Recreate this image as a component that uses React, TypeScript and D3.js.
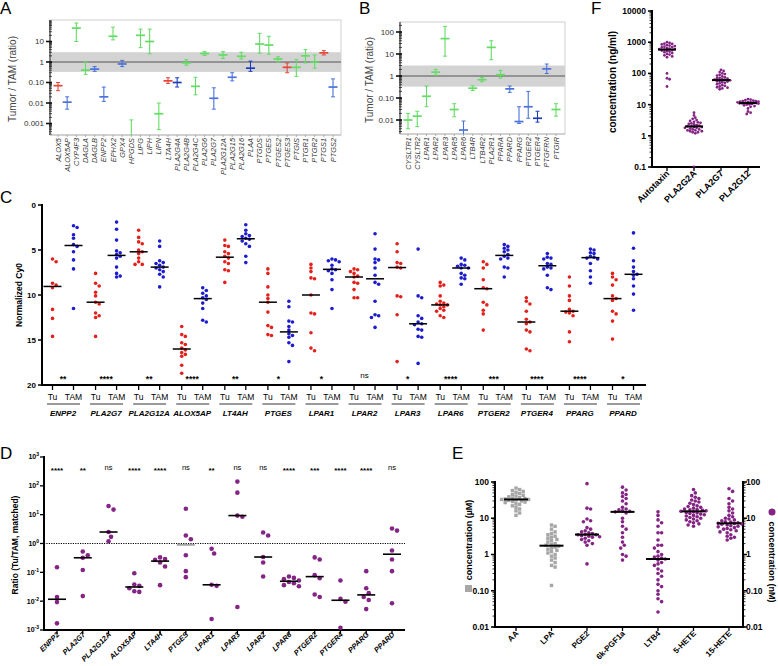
import React from "react";
import * as d3 from "d3";

const FONT = "'Liberation Sans', Arial, Helvetica, sans-serif";

// ---------------- Panel A ----------------
const aGenes = ["ALOX5","ALOX5AP","CYP4F3","DAGLA","DAGLB","ENPP2","EPHX2","GPX4","HPGDS","LIPG","LIPH","LIPN","LTA4H","PLA2G4A","PLA2G4B","PLA2G4C","PLA2G6","PLA2G7","PLA2G12A","PLA2G15","PLA2G16","PLAA","PTGDS","PTGES","PTGES2","PTGES3","PTGIS","PTGR1","PTGR2","PTGS1","PTGS2"];
const aMedian = [0.07,0.011,45,0.4,0.45,0.02,18,0.8,0.0002,20,10,0.003,0.12,0.1,0.9,0.065,2.6,0.017,2.2,0.18,1.9,0.5,7.5,6.7,1.4,0.55,0.55,2.0,1.0,2.8,0.06];
const aLow = [0.04,0.005,10,0.25,0.35,0.012,12,0.6,0.00005,5,2.5,0.0005,0.09,0.06,0.7,0.025,2.1,0.005,1.5,0.12,1.4,0.35,2.7,2.4,1.0,0.3,0.2,0.9,0.5,2.2,0.02];
const aHigh = [0.1,0.02,80,1.0,0.6,0.06,50,1.2,0.0015,40,40,0.01,0.17,0.17,1.3,0.18,3.2,0.055,3.2,0.3,3.0,1.1,25,18,1.8,0.9,1.3,4.0,2.2,3.6,0.15];
const aColor = ["r","b","g","g","b","b","g","b","g","g","g","g","r","B","g","g","g","b","g","b","g","B","g","g","g","r","g","g","g","r","b"];
const aTicks = [10,1,0.1,0.01,0.001];
const aTickLabels = ["10","1","0.10","0.01","0.001"];

// ---------------- Panel B ----------------
const bGenes = ["CYSLTR1","CYSLTR2","LPAR1","LPAR2","LPAR3","LPAR5","LPAR6","LTB4R","LTB4R2","PLA2R1","PPARA","PPARD","PPARG","PTGER2","PTGER4","PTGFRN","PTGIR"];
const bMedian = [0.01,0.015,0.12,1.5,50,0.03,0.0035,0.28,0.68,20,1.15,0.26,0.0085,0.04,0.012,2.1,0.03];
const bLow = [0.004,0.005,0.04,1.1,8,0.014,0.001,0.22,0.55,5.5,0.8,0.18,0.007,0.012,0.008,1.3,0.015];
const bHigh = [0.02,0.025,0.35,2.0,180,0.055,0.009,0.36,0.85,40,1.8,0.35,0.04,0.2,0.025,3.5,0.055];
const bColor = ["g","g","g","g","g","g","b","g","g","g","g","b","b","b","B","b","g"];
const bTicks = [100,10,1,0.1,0.01];
const bTickLabels = ["100","10","1","0.10","0.01"];

// ---------------- Panel C ----------------
const cGenes = ["ENPP2","PLA2G7","PLA2G12A","ALOX5AP","LT4AH","PTGES","LPAR1","LPAR2","LPAR3","LPAR6","PTGER2","PTGER4","PPARG","PPARD"];
const cStars = ["**","****","**","****","**","*","*","ns","*","****","***","****","****","*"];
const cTicks = [0,5,10,15,20];
const cTu = [
  [6.0,6.3,8.7,8.9,9.2,11.6,12.6,14.6],
  [7.6,8.7,9.0,9.7,10.1,10.8,11.0,12.0,12.3,12.5,14.6],
  [2.8,3.6,4.1,4.3,5.0,5.2,5.4,5.9,6.3,6.6,6.6],
  [13.5,14.4,14.6,15.3,15.5,15.9,16.1,16.4,16.6,16.8,17.8,18.7],
  [3.9,4.5,4.6,5.2,5.4,5.7,5.9,6.3,6.5,7.2,7.3,8.6],
  [7.1,7.6,9.1,10.0,10.4,10.8,11.9,13.4,13.6,14.4,14.5],
  [6.6,7.0,7.4,8.1,8.2,10.0,12.0,12.1,14.2,15.9,16.2],
  [7.1,7.2,7.4,7.6,7.9,8.0,8.6,8.7,9.4,10.3,10.3],
  [4.3,5.2,6.4,6.5,6.9,7.0,10.1,10.2,12.2,17.4],
  [8.6,8.9,9.0,10.1,10.7,10.9,11.0,11.1,11.1,11.3,11.5,11.7,11.8,12.3,12.5],
  [6.3,6.6,7.0,8.3,9.2,9.3,10.8,11.1,11.7,12.1,13.9],
  [10.3,10.7,11.0,11.8,12.7,13.0,13.2,13.9,14.1,16.0,16.2],
  [8.0,9.0,10.1,10.6,11.6,11.8,11.9,12.0,12.3,14.1,15.2],
  [7.6,8.0,8.3,8.9,10.1,10.4,10.6,11.8,12.1,12.9,14.9],
];
const cTam = [
  [2.3,2.5,3.3,3.7,4.4,4.6,5.2,6.1,7.1,11.5],
  [1.9,2.7,3.9,5.1,5.3,5.5,5.7,5.9,6.9,7.6,7.9,8.0],
  [4.0,4.6,6.2,6.4,6.5,6.7,6.9,7.0,7.2,7.4,7.7,8.0,9.1],
  [9.2,9.5,9.8,10.1,10.3,10.5,10.9,11.5,12.8,13.0],
  [2.2,2.8,3.2,3.4,3.5,3.7,3.8,4.0,4.3,4.6,5.7,6.4],
  [10.7,11.3,12.9,13.0,13.5,13.9,14.3,14.5,14.7,15.3,15.6,17.4],
  [6.0,6.1,6.2,6.3,6.7,7.1,7.2,7.3,7.6,8.3,9.4,11.5],
  [3.2,4.9,6.0,6.1,6.4,7.0,7.8,8.6,8.8,10.7,12.2,12.3,12.5,13.6],
  [4.9,10.1,10.3,12.3,12.6,13.0,13.2,13.3,13.8,13.9,14.6,14.7,17.6],
  [5.9,6.1,6.6,6.7,6.8,7.0,7.0,7.6,7.8,8.1,8.2,8.8],
  [4.4,4.6,4.8,5.0,5.2,5.5,5.7,5.9,6.0,6.9,7.0,8.0],
  [5.4,5.8,5.9,6.0,6.5,6.6,6.9,7.0,7.1,7.8,9.2,9.4],
  [4.9,5.0,5.3,5.4,5.7,5.8,5.9,6.0,6.5,7.3,8.0,8.7],
  [3.1,4.8,6.2,6.9,7.4,7.7,7.8,8.2,9.0,9.9,11.7],
];

// ---------------- Panel D ----------------
const dGenes = ["ENPP2","PLA2G7","PLA2G12A","ALOX5AP","LTA4H","PTGES","LPAR1","LPAR3","LPAR2","LPAR6","PTGER2","PTGER4","PPARG","PPARD"];
const dStars = ["****","**","ns","****","****","ns","**","ns","ns","****","***","****","****","ns"];
const dExponents = [3,2,1,0,-1,-2,-3];
const dRatios = [
  [0.15,0.014,0.0093,0.0017],
  [0.53,0.39,0.32,0.12,0.015],
  [20,15,2.5,1.7,1.2],
  [0.093,0.038,0.034,0.028,0.022,0.021],
  [0.33,0.29,0.27,0.22,0.16,0.036],
  [16,1.9,1.4,0.39,0.11,0.068],
  [0.66,0.45,0.037,0.034,0.0024],
  [140,58,9.3,8.5,0.0063],
  [2.4,1.9,0.34,0.22,0.072],
  [0.072,0.064,0.058,0.052,0.046,0.042,0.036,0.033],
  [0.33,0.28,0.08,0.062,0.017,0.014],
  [0.052,0.012,0.0095,0.0012],
  [0.11,0.028,0.019,0.014,0.011,0.0053],
  [3.3,2.8,0.57,0.28,0.11,0.0085],
];

// ---------------- Panel E ----------------
const eCats = ["AA","LPA","PGE2","6k-PGF1a","LTB4","5-HETE","15-HETE"];
const eTicks = [100,10,1,0.1,0.01];
const eTickLabels = ["100","10","1","0.10","0.01"];
const eAA = [68,62,58,55,52,48,45,43,41,39,37,36,35,34,33,33,32,31,30,29,28,27,25,24,22,20,18,16,14,12];
const eLPA = [6.5,6,5,4.2,3.8,3.5,3.2,3,2.8,2.6,2.4,2.2,2.0,1.9,1.8,1.7,1.6,1.5,1.4,1.3,1.2,1.1,1.0,0.9,0.8,0.7,0.6,0.5,0.45,0.14];
const ePGE2 = [90,19,18,9.5,8.5,8,5.5,5,4.5,4.2,4,3.8,3.6,3.5,3.5,3.3,3.2,3.1,3.0,2.8,2.6,2.4,2.2,2.0,1.8,0.55];
const ePGF = [72,60,50,45,40,35,30,25,20,18,17,16,15.5,15,14,10,8,6,5,4,3,2.2,1.8,1.5,1.0,0.9,0.7];
const eLTB4 = [15,12,9,7.5,6,4,4,2.5,1.8,1.8,1.5,1.2,1.0,0.9,0.85,0.8,0.75,0.7,0.6,0.55,0.5,0.4,0.35,0.3,0.25,0.2,0.15,0.13,0.1,0.08,0.06,0.05,0.026];
const e5HETE = [62,50,42,38,35,32,30,28,26,24,22,21,20,19,18,17.5,17,16.5,16,15.5,15,14.5,14,13.5,13,12.5,12,11.5,11,10.5,10,9.5,9,8.5,8,7.5,7,6.5,6];
const e15HETE = [65,55,35,30,25,20,18,16,14,12,11,10,9.5,9,8.5,8,7.8,7.5,7.3,7.2,7,6.8,6.5,6.2,6,5.8,5.5,5.2,5,4.8,4.5,4.2,4,3.5,3.2,3,2.8,2.5];

// ---------------- Panel F ----------------
const fCats = ["Autotaxin","PLA2G2A","PLA2G7","PLA2G12"];
const fTicks = [10000,1000,100,10,1,0.1];
const fTickLabels = ["10000","1000","100","10","1","0.1"];
const fAutotaxin = [1000,950,900,880,850,800,780,750,720,700,680,650,620,600,600,580,560,540,520,500,480,450,420,400,380,350,330,100,70,65,38];
const fPLA2G2A = [5.5,4.5,3.8,3.5,3.2,3.0,2.8,2.7,2.6,2.5,2.4,2.3,2.2,2.1,2.0,2.0,1.9,1.9,1.8,1.8,1.7,1.6,1.6,1.5,1.5,1.4,1.4,1.3,1.3,1.2,0.1];
const fPLA2G7 = [130,120,110,100,95,90,85,80,75,72,70,68,65,63,62,60,58,56,55,52,50,48,45,42,40,38,36,35,33,31];
const fPLA2G12 = [15,14.5,14,13.5,13,13,12.5,12.5,12,12,11.8,11.5,11.5,11.2,11,11,10.8,10.5,10.2,10,9.5,9,8.5,7.5,6,5.5,5];

// ---------------- helpers ----------------
const ratioColors: Record<string, string> = { g: "#63dc63", r: "#e4463a", b: "#4a72da", B: "#1c3cc0" };
const PURPLE = "#842484";

function beeswarm(values: number[], yOf: (v: number) => number, cx: number, d: number, maxHalf = 100) {
  const order = values.map((v) => ({ v, y: yOf(v) })).sort((a, b) => a.y - b.y);
  const placed: { x: number; y: number; v: number }[] = [];
  for (const p of order) {
    let off = 0;
    let found = false;
    for (let k = 0; k < 80; k++) {
      const o = k === 0 ? 0 : (k % 2 === 1 ? 1 : -1) * Math.ceil(k / 2) * d * 0.5;
      if (Math.abs(o) > maxHalf) break;
      const x = cx + o;
      if (placed.every((q) => (q.x - x) ** 2 + (q.y - p.y) ** 2 >= d * d * 0.95)) { off = o; found = true; break; }
    }
    if (!found) {
      // fall back: least crowded position inside the allowed width
      let best = 0, bestD = -1;
      for (let o = -maxHalf; o <= maxHalf; o += d * 0.25) {
        const md = Math.min(...placed.map((q) => (q.x - cx - o) ** 2 + (q.y - p.y) ** 2));
        if (md > bestD) { bestD = md; best = o; }
      }
      off = best;
    }
    placed.push({ x: cx + off, y: p.y, v: p.v });
  }
  return placed;
}

function minorLogTicks(lo: number, hi: number) {
  const out: number[] = [];
  for (let e = Math.floor(Math.log10(lo)); e <= Math.ceil(Math.log10(hi)); e++) {
    for (let m = 1; m <= 9; m++) {
      const v = m * Math.pow(10, e);
      if (v >= lo && v <= hi) out.push(v);
    }
  }
  return out;
}

// ---------------- Ratio panels (A, B) ----------------
function RatioPanel(props: {
  id: string; genes: string[]; med: number[]; low: number[]; high: number[]; cols: string[];
  left: number; right: number; top: number; bottom: number; cat0: number; cat1: number;
  yOne: number; decade: number; ticks: number[]; tickLabels: string[]; titleX: number; titleY: number;
}) {
  const p = props;
  const lo = Math.pow(10, (p.yOne - p.bottom) / p.decade);
  const hi = Math.pow(10, (p.yOne - p.top) / p.decade);
  const y = d3.scaleLog().domain([lo, hi]).range([p.bottom, p.top]);
  const x = d3.scalePoint<string>().domain(p.genes).range([p.cat0, p.cat1]);
  return (
    <g>
      <defs>
        <clipPath id={p.id}><rect x={p.left} y={p.top} width={p.right - p.left} height={p.bottom - p.top} /></clipPath>
      </defs>
      <rect x={p.left} y={p.top} width={p.right - p.left} height={p.bottom - p.top} fill="#fff" stroke="#d0d0d0" strokeWidth={1} />
      <rect x={p.left} y={y(3)} width={p.right - p.left} height={y(0.33) - y(3)} fill="#d3d3d3" />
      <line x1={p.left} x2={p.right} y1={y(1)} y2={y(1)} stroke="#555" strokeWidth={1} />
      <line x1={p.left} x2={p.left} y1={p.top} y2={p.bottom} stroke="#222" strokeWidth={1} />
      {minorLogTicks(lo, hi).map((v, i) => (
        <line key={i} x1={p.left - 1} x2={p.left + 2} y1={y(v)} y2={y(v)} stroke="#222" strokeWidth={0.8} />
      ))}
      {p.ticks.map((v, i) => (
        <g key={i}>
          <line x1={p.left - 4} x2={p.left + 2} y1={y(v)} y2={y(v)} stroke="#111" strokeWidth={1.6} />
          <text x={p.left - 6} y={y(v)} dy="0.35em" textAnchor="end" fontSize={8} fill="#333">{p.tickLabels[i]}</text>
        </g>
      ))}
      <line x1={p.left} x2={p.right} y1={p.bottom} y2={p.bottom} stroke="#bbb" strokeWidth={1} />
      <g clipPath={`url(#${p.id})`}>
        {p.genes.map((g, i) => {
          const cx = x(g)!;
          const c = ratioColors[p.cols[i]];
          return (
            <g key={g} stroke={c}>
              <line x1={cx} x2={cx} y1={y(p.high[i])} y2={y(p.low[i])} strokeWidth={1.1} />
              <line x1={cx - 2} x2={cx + 2} y1={y(p.high[i])} y2={y(p.high[i])} strokeWidth={1} />
              <line x1={cx - 2} x2={cx + 2} y1={y(p.low[i])} y2={y(p.low[i])} strokeWidth={1} />
              <line x1={cx - 4.5} x2={cx + 4.5} y1={y(p.med[i])} y2={y(p.med[i])} strokeWidth={1.7} />
            </g>
          );
        })}
      </g>
      {p.genes.map((g) => (
        <g key={g}>
          <line x1={x(g)!} x2={x(g)!} y1={p.bottom} y2={p.bottom + 2} stroke="#999" strokeWidth={0.8} />
          <text transform={`translate(${x(g)! + 2.6},${p.bottom + 3}) rotate(-90)`} textAnchor="end" fontSize={7.4} fontStyle="italic" fill="#333">{g}</text>
        </g>
      ))}
      <text transform={`translate(${p.titleX},${p.titleY}) rotate(-90)`} textAnchor="middle" fontSize={10} fill="#444">Tumor / TAM (ratio)</text>
    </g>
  );
}

// ---------------- Panel C ----------------
function PanelC() {
  const x = d3.scalePoint<string>().domain(cGenes).range([63, 623]);
  const y = d3.scaleLinear().domain([0, 20]).range([205, 385]);
  const off = 10.5;
  return (
    <g>
      <text x={0} y={203} fontSize={17}>C</text>
      <line x1={42} x2={42} y1={204} y2={386} stroke="#000" strokeWidth={2} />
      <line x1={41} x2={646} y1={385} y2={385} stroke="#000" strokeWidth={2} />
      {cTicks.map((t) => (
        <g key={t}>
          <line x1={38} x2={42} y1={y(t)} y2={y(t)} stroke="#000" strokeWidth={1.5} />
          <text x={36} y={y(t)} dy="0.35em" textAnchor="end" fontSize={8} fontWeight="bold">{t}</text>
        </g>
      ))}
      <text transform="translate(22,295) rotate(-90)" textAnchor="middle" fontSize={8.5} fontWeight="bold">Normalized Cy0</text>
      {cGenes.map((g, i) => {
        const cx = x(g)!;
        const tu = beeswarm(cTu[i], y, cx - off, 3.6, 9);
        const tam = beeswarm(cTam[i], y, cx + off, 3.6, 9);
        const mTu = d3.median(cTu[i])!;
        const mTam = d3.median(cTam[i])!;
        return (
          <g key={g}>
            {tu.map((p, k) => <circle key={"u" + k} cx={p.x} cy={p.y} r={1.8} fill="#e3201b" />)}
            {tam.map((p, k) => <circle key={"a" + k} cx={p.x} cy={p.y} r={1.8} fill="#1c1cce" />)}
            <line x1={cx - off - 9} x2={cx - off + 9} y1={y(mTu)} y2={y(mTu)} stroke="#000" strokeWidth={1.5} />
            <line x1={cx + off - 9} x2={cx + off + 9} y1={y(mTam)} y2={y(mTam)} stroke="#000" strokeWidth={1.5} />
            <line x1={cx - off} x2={cx - off} y1={385} y2={390} stroke="#000" strokeWidth={1.3} />
            <line x1={cx + off} x2={cx + off} y1={385} y2={390} stroke="#000" strokeWidth={1.3} />
            {cStars[i] === "ns"
              ? <text x={cx} y={378} textAnchor="middle" fontSize={8}>ns</text>
              : <text x={cx} y={382} textAnchor="middle" fontSize={8.5} fontWeight="bold">{cStars[i]}</text>}
            <text x={cx - off} y={400} textAnchor="middle" fontSize={8.5}>Tu</text>
            <text x={cx + off} y={400} textAnchor="middle" fontSize={8.5}>TAM</text>
            <line x1={cx - 16} x2={cx + 17} y1={404} y2={404} stroke="#000" strokeWidth={0.8} />
            <text x={cx} y={416} textAnchor="middle" fontSize={8} fontStyle="italic" fontWeight="bold">{g}</text>
          </g>
        );
      })}
    </g>
  );
}

// ---------------- Panel D ----------------
function PanelD() {
  const x = d3.scalePoint<string>().domain(dGenes).range([57, 392]);
  const y = d3.scaleLog().domain([1e-3, 1e3]).range([630, 457]);
  return (
    <g>
      <text x={0} y={459} fontSize={17}>D</text>
      <line x1={44} x2={405} y1={y(1)} y2={y(1)} stroke="#000" strokeWidth={1} strokeDasharray="1.2,1.2" />
      <line x1={44} x2={44} y1={456} y2={631} stroke="#000" strokeWidth={2} />
      <line x1={43} x2={405} y1={630} y2={630} stroke="#000" strokeWidth={2} />
      {dExponents.map((e) => (
        <g key={e}>
          <line x1={40} x2={44} y1={y(Math.pow(10, e))} y2={y(Math.pow(10, e))} stroke="#000" strokeWidth={1.3} />
          <text x={39} y={y(Math.pow(10, e))} dy="0.35em" textAnchor="end" fontSize={7} fontWeight="bold">
            10<tspan dy={-3} fontSize={5}>{e}</tspan>
          </text>
        </g>
      ))}
      <text transform="translate(18,545) rotate(-90)" textAnchor="middle" fontSize={8.5} fontWeight="bold">Ratio (Tu/TAM, matched)</text>
      {dGenes.map((g, i) => {
        const cx = x(g)!;
        const pts = beeswarm(dRatios[i], y, cx, 5);
        const m = d3.median(dRatios[i])!;
        return (
          <g key={g}>
            {pts.map((p, k) => <circle key={k} cx={p.x} cy={p.y} r={2.3} fill={PURPLE} />)}
            <line x1={cx - 9} x2={cx + 9} y1={y(m)} y2={y(m)} stroke={g === "PTGES" ? "#999" : "#000"} strokeWidth={1.6} />
            <line x1={cx} x2={cx} y1={630} y2={634} stroke="#000" strokeWidth={1.3} />
            {dStars[i] === "ns"
              ? <text x={cx} y={470} textAnchor="middle" fontSize={7.5}>ns</text>
              : <text x={cx} y={473} textAnchor="middle" fontSize={8} fontWeight="bold">{dStars[i]}</text>}
            <text transform={`translate(${cx + 3},${635}) rotate(-45)`} textAnchor="end" fontSize={7.4} fontStyle="italic" fontWeight="bold">{g}</text>
          </g>
        );
      })}
    </g>
  );
}

// ---------------- Panel E ----------------
function PanelE() {
  const x = d3.scalePoint<string>().domain(eCats).range([516, 729]);
  const y = d3.scaleLog().domain([0.01, 100]).range([627, 482]);
  const series = [eAA, eLPA, ePGE2, ePGF, eLTB4, e5HETE, e15HETE];
  const minors = minorLogTicks(0.01, 100);
  return (
    <g>
      <text x={452} y={459} fontSize={17}>E</text>
      <line x1={495} x2={495} y1={481} y2={628} stroke="#000" strokeWidth={2} />
      <line x1={743} x2={743} y1={481} y2={628} stroke="#000" strokeWidth={2} />
      <line x1={494} x2={744} y1={627} y2={627} stroke="#000" strokeWidth={2} />
      {minors.map((v, i) => (
        <g key={i}>
          <line x1={492.5} x2={495} y1={y(v)} y2={y(v)} stroke="#000" strokeWidth={0.8} />
          <line x1={743} x2={745.5} y1={y(v)} y2={y(v)} stroke="#000" strokeWidth={0.8} />
        </g>
      ))}
      {eTicks.map((t, i) => (
        <g key={t}>
          <line x1={491} x2={495} y1={y(t)} y2={y(t)} stroke="#000" strokeWidth={1.5} />
          <line x1={743} x2={747} y1={y(t)} y2={y(t)} stroke="#000" strokeWidth={1.5} />
          <text x={489} y={y(t)} dy="0.35em" textAnchor="end" fontSize={8.5} fontWeight="bold">{eTickLabels[i]}</text>
          <text x={746} y={y(t)} dy="0.35em" textAnchor="start" fontSize={8.5} fontWeight="bold">{eTickLabels[i]}</text>
        </g>
      ))}
      <rect x={465} y={585} width={7} height={7} fill="#a6a6a6" />
      <text transform="translate(472,540) rotate(-90)" textAnchor="middle" fontSize={9} fontWeight="bold">concentration (µM)</text>
      <circle cx={772} cy={512} r={3.5} fill={PURPLE} />
      <text transform="translate(769,562) rotate(90)" textAnchor="middle" fontSize={9} fontWeight="bold">concentration (nM)</text>
      {eCats.map((c, i) => {
        const cx = x(c)!;
        const pts = beeswarm(series[i], y, cx, 3.6, 15);
        const m = d3.median(series[i])!;
        const grey = i < 2;
        return (
          <g key={c}>
            {pts.map((p, k) => grey
              ? <rect key={k} x={p.x - 1.7} y={p.y - 1.7} width={3.4} height={3.4} fill="#a6a6a6" />
              : <circle key={k} cx={p.x} cy={p.y} r={1.8} fill={PURPLE} />)}
            <line x1={cx - 12} x2={cx + 12} y1={y(m)} y2={y(m)} stroke="#000" strokeWidth={2} />
            <line x1={cx} x2={cx} y1={627} y2={631} stroke="#000" strokeWidth={1.3} />
            <text transform={`translate(${cx + 3},${634}) rotate(-45)`} textAnchor="end" fontSize={8} fontWeight="bold">{c}</text>
          </g>
        );
      })}
    </g>
  );
}

// ---------------- Panel F ----------------
function PanelF() {
  const x = d3.scalePoint<string>().domain(fCats).range([667, 748]);
  const y = d3.scaleLog().domain([0.1, 10000]).range([167, 11]);
  const series = [fAutotaxin, fPLA2G2A, fPLA2G7, fPLA2G12];
  return (
    <g>
      <text x={591} y={14} fontSize={17}>F</text>
      <line x1={652} x2={652} y1={10} y2={168} stroke="#000" strokeWidth={2} />
      <line x1={651} x2={760} y1={167} y2={167} stroke="#000" strokeWidth={2} />
      {minorLogTicks(0.1, 10000).map((v, i) => (
        <line key={i} x1={649.5} x2={652} y1={y(v)} y2={y(v)} stroke="#000" strokeWidth={0.8} />
      ))}
      {fTicks.map((t, i) => (
        <g key={t}>
          <line x1={648} x2={652} y1={y(t)} y2={y(t)} stroke="#000" strokeWidth={1.5} />
          <text x={646} y={y(t)} dy="0.35em" textAnchor="end" fontSize={8.5} fontWeight="bold">{fTickLabels[i]}</text>
        </g>
      ))}
      <text transform="translate(616,82) rotate(-90)" textAnchor="middle" fontSize={10} fontWeight="bold">concentration (ng/ml)</text>
      {fCats.map((c, i) => {
        const cx = x(c)!;
        const pts = beeswarm(series[i], y, cx, 2.6, 11);
        const m = d3.median(series[i])!;
        return (
          <g key={c}>
            {pts.map((p, k) => <circle key={k} cx={p.x} cy={p.y} r={1.4} fill={PURPLE} />)}
            <line x1={cx - 9} x2={cx + 9} y1={y(m)} y2={y(m)} stroke="#000" strokeWidth={2} />
            <line x1={cx} x2={cx} y1={167} y2={171} stroke="#000" strokeWidth={1.3} />
            <text transform={`translate(${cx + 3},${174}) rotate(-45)`} textAnchor="end" fontSize={9} fontWeight="bold">{c}</text>
          </g>
        );
      })}
    </g>
  );
}

export default function App() {
  return (
    <svg width={778} height={666} style={{ position: "absolute", left: 0, top: 0, background: "#fff" }} fontFamily={FONT}>
      <rect width={778} height={666} fill="#fff" />
      <text x={0} y={14} fontSize={17}>A</text>
      <RatioPanel id="clipA" genes={aGenes} med={aMedian} low={aLow} high={aHigh} cols={aColor}
        left={50} right={341} top={20} bottom={135} cat0={58} cat1={333} yOne={62} decade={20.5}
        ticks={aTicks} tickLabels={aTickLabels} titleX={16} titleY={79} />
      <text x={359} y={14} fontSize={17}>B</text>
      <RatioPanel id="clipB" genes={bGenes} med={bMedian} low={bLow} high={bHigh} cols={bColor}
        left={400} right={565} top={22} bottom={134} cat0={408} cat1={556} yOne={76} decade={22}
        ticks={bTicks} tickLabels={bTickLabels} titleX={373} titleY={80} />
      <PanelF />
      <PanelC />
      <PanelD />
      <PanelE />
    </svg>
  );
}
